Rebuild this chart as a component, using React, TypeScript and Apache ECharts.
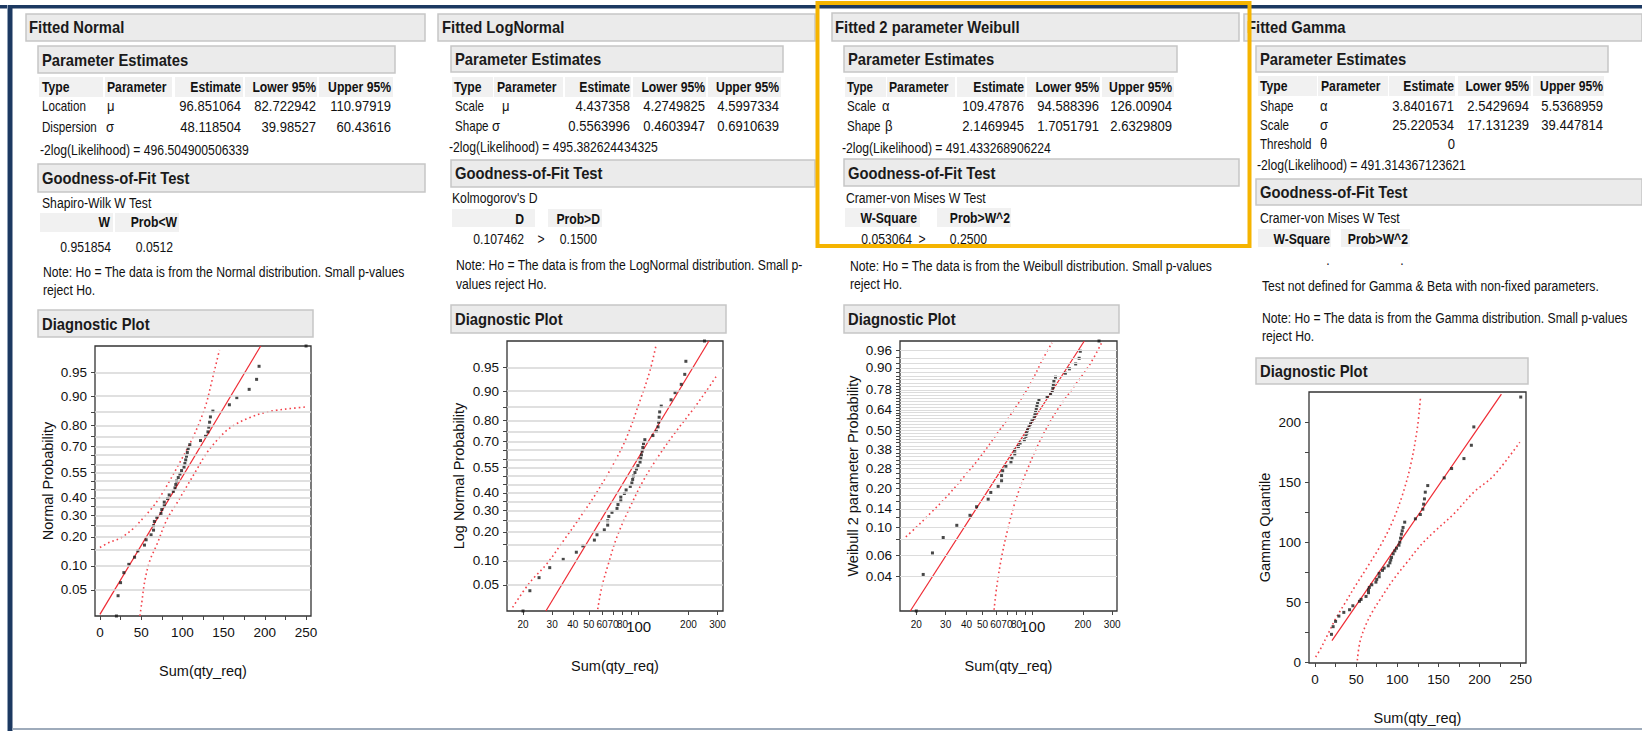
import React, { useEffect, useRef } from "react";
import * as echarts from "echarts";

// ---------- data ----------
const qtyReq = [20, 22, 25, 29, 35, 42, 46, 54, 56, 62, 65, 65, 66, 69, 74, 75, 78, 78, 82, 84, 89, 91, 92, 93, 95, 97, 99, 102, 103, 104, 105, 106, 107, 109, 122, 128, 131, 132, 133, 134, 137, 157, 166, 181, 190, 193, 250];
const plotProb = [0.0208, 0.0417, 0.0625, 0.0833, 0.1042, 0.125, 0.1458, 0.1667, 0.1875, 0.2083, 0.2292, 0.25, 0.2708, 0.2917, 0.3125, 0.3333, 0.3542, 0.375, 0.3958, 0.4167, 0.4375, 0.4583, 0.4792, 0.5, 0.5208, 0.5417, 0.5625, 0.5833, 0.6042, 0.625, 0.6458, 0.6667, 0.6875, 0.7083, 0.7292, 0.75, 0.7708, 0.7917, 0.8125, 0.8333, 0.8542, 0.875, 0.8958, 0.9167, 0.9375, 0.9583, 0.9792];
const gammaQuantile = [23.6, 30.0, 34.4, 38.8, 41.9, 44.1, 47.4, 51.1, 52.7, 55.2, 58.3, 60.5, 62.7, 64.9, 67.1, 69.4, 71.6, 74.4, 76.9, 78.8, 80.7, 83.2, 85.5, 87.7, 90.7, 93.2, 95.4, 97.9, 100.4, 103.8, 107.1, 109.9, 112.7, 117.1, 119.9, 123.5, 127.9, 132.1, 136.5, 142.1, 147.6, 154.0, 161.8, 170.1, 181.2, 196.5, 221.4];

const probRange = [0.0208, 0.9792];

const normalProbTicks = [0.05, 0.10, 0.20, 0.30, 0.40, 0.55, 0.70, 0.80, 0.90, 0.95];
const normalProbGrid = [0.05, 0.10, 0.15, 0.20, 0.25, 0.30, 0.35, 0.40, 0.45, 0.50, 0.55, 0.60, 0.65, 0.70, 0.75, 0.80, 0.85, 0.90, 0.95];
const weibullProbTicks = [0.04, 0.06, 0.10, 0.14, 0.20, 0.28, 0.38, 0.50, 0.64, 0.78, 0.90, 0.96];
const weibullProbGrid = [0.04, 0.06, 0.08, 0.10, 0.12, 0.14, 0.16, 0.18, 0.20, 0.22, 0.24, 0.26, 0.28, 0.30, 0.32, 0.34, 0.36, 0.38, 0.40, 0.42, 0.44, 0.46, 0.48, 0.50, 0.52, 0.54, 0.56, 0.58, 0.60, 0.62, 0.64, 0.66, 0.68, 0.70, 0.72, 0.74, 0.76, 0.78, 0.80, 0.82, 0.84, 0.86, 0.88, 0.90, 0.92, 0.94, 0.96];
const linearLabels = [0, 50, 100, 150, 200, 250];
const linearTicks = [0, 25, 50, 75, 100, 125, 150, 175, 200, 225, 250];
const gammaYLabels = [0, 50, 100, 150, 200];
const gammaYTicks = [0, 25, 50, 75, 100, 125, 150, 175, 200];
const logLabels = [20, 30, 40, 50, 60, 70, 80, 100, 200, 300];
const logTicks = [20, 30, 40, 50, 60, 70, 80, 90, 100, 200, 300];

// fitted lines (x, probability) / (x, quantile)
const normalFit = [[0, 0.0221], [195, 0.9792]];
const lognormalFit = [[27.5, 0.0208], [266, 0.9792]];
const weibullFit = [[18.4, 0.0208], [204, 0.9792]];
const gammaFit = [[20.6, 18.3], [226.5, 223.9]];

// confidence bands
const normalBandUpper = [[0, 0.158], [12, 0.178], [24, 0.193], [40, 0.235], [53, 0.291], [63, 0.341], [73, 0.406], [85, 0.505], [95, 0.594], [105, 0.679], [113, 0.747], [121, 0.814], [129, 0.879], [135, 0.929], [142, 0.966], [145, 0.976]];
const normalBandLower = [[48.5, 0.0208], [50.6, 0.0324], [54.6, 0.0675], [60.7, 0.116], [68.8, 0.167], [80.9, 0.278], [93, 0.367], [105, 0.465], [117, 0.565], [129, 0.661], [142, 0.731], [154, 0.778], [166, 0.807], [182, 0.831], [198, 0.848], [214, 0.857], [231, 0.863], [249, 0.868]];
const lognormalBandUpper = [[17.3, 0.0237], [22.0, 0.0542], [27.8, 0.092], [35.1, 0.164], [44.2, 0.266], [55.8, 0.402], [70.3, 0.571], [84.5, 0.719], [101.7, 0.871], [116.8, 0.943], [127.1, 0.975]];
const lognormalBandLower = [[56.6, 0.0223], [59.8, 0.0464], [65.6, 0.092], [73.7, 0.177], [86.6, 0.300], [106.6, 0.471], [134.3, 0.629], [169.3, 0.752], [213.4, 0.843], [256.4, 0.900], [298, 0.936]];
const weibullBandUpper = [[17.3, 0.0843], [20.1, 0.1013], [24.2, 0.129], [30.3, 0.173], [38.4, 0.243], [48.2, 0.336], [60.8, 0.473], [76.5, 0.634], [96.3, 0.813], [116, 0.939], [130.4, 0.976]];
const weibullBandLower = [[58.6, 0.0213], [60.8, 0.0331], [65.1, 0.0583], [71.4, 0.1013], [80.1, 0.173], [92.3, 0.272], [110.6, 0.431], [139.2, 0.634], [175.1, 0.792], [220.3, 0.915], [259, 0.976]];
const gammaBandUpper = [[0.8, 4.7], [6.9, 11.7], [15, 22.8], [25.1, 36.6], [37.2, 50.5], [49.4, 64.4], [63.5, 79.6], [79.7, 97.7], [93.9, 117.1], [106, 139.3], [116.1, 164.3], [124.2, 194.8], [128.2, 221.1]];
const gammaBandLower = [[51.4, 1.9], [54.6, 17.2], [61.5, 31.1], [69.6, 42.2], [79.7, 53.3], [95.9, 69.9], [112, 83.8], [128.2, 97.7], [144.4, 108.8], [168.7, 124], [193, 142.1], [217.2, 155.9], [248.8, 183.7]];

// ---------- scale transforms ----------
function probit(p: number): number {
  const a = [-3.969683028665376e1, 2.209460984245205e2, -2.759285104469687e2, 1.38357751867269e2, -3.066479806614716e1, 2.506628277459239];
  const b = [-5.447609879822406e1, 1.615858368580409e2, -1.556989798598866e2, 6.680131188771972e1, -1.328068155288572e1];
  const c = [-7.784894002430293e-3, -3.223964580411365e-1, -2.400758277161838, -2.549732539343734, 4.374664141464968, 2.938163982698783];
  const d = [7.784695709041462e-3, 3.224671290700398e-1, 2.445134137142996, 3.754408661907416];
  const pl = 0.02425;
  if (p < pl) {
    const q = Math.sqrt(-2 * Math.log(p));
    return (((((c[0] * q + c[1]) * q + c[2]) * q + c[3]) * q + c[4]) * q + c[5]) / ((((d[0] * q + d[1]) * q + d[2]) * q + d[3]) * q + 1);
  }
  if (p <= 1 - pl) {
    const q = p - 0.5, r = q * q;
    return ((((((a[0] * r + a[1]) * r + a[2]) * r + a[3]) * r + a[4]) * r + a[5]) * q) / (((((b[0] * r + b[1]) * r + b[2]) * r + b[3]) * r + b[4]) * r + 1);
  }
  const q = Math.sqrt(-2 * Math.log(1 - p));
  return -(((((c[0] * q + c[1]) * q + c[2]) * q + c[3]) * q + c[4]) * q + c[5]) / ((((d[0] * q + d[1]) * q + d[2]) * q + d[3]) * q + 1);
}
const weib = (p: number) => Math.log(-Math.log(1 - p));
const lg = (v: number) => Math.log10(v);
const ident = (v: number) => v;

const FONT = "'Liberation Sans', Arial, Helvetica, sans-serif";
const SX = 0.87;

// ---------- graphic helpers ----------
function T(x: number, y: number, text: string, o: any = {}) {
  return {
    type: "text", x, y, scaleX: o.sx ?? SX, z: 20, silent: true,
    style: {
      text, fontSize: o.size ?? 15, fontWeight: o.bold ? "bold" : "normal", fontFamily: FONT,
      fill: o.color ?? "#111", align: o.align ?? "left", verticalAlign: "middle",
    },
  };
}
function R(x: number, y: number, w: number, h: number, fill: string, stroke?: string, lw = 1) {
  return { type: "rect", z: 10, silent: true, shape: { x, y, width: w, height: h }, style: { fill, stroke: stroke ?? "none", lineWidth: lw } };
}
const HB = "#ebebeb", HS = "#c6c6c6", CELL = "#f1f1f1";
const head = (x: number, y: number, w: number, h: number) => R(x, y, w, h, HB, HS, 1.5);
const H = (x: number, y: number, t: string) => T(x, y, t, { size: 17, bold: true, color: "#1a1a1a" });
const B = (x: number, y: number, t: string, align = "left") => T(x, y, t, { size: 14, bold: true, align });
const N = (x: number, y: number, t: string, align = "left") => T(x, y, t, { size: 15, align });
const W = (x: number, y: number, t: string) => T(x, y, t, { size: 14.5, sx: 0.8 });
const S = (x: number, y: number, t: string, align = "left") => T(x, y, t, { size: 14, align });

function buildGraphics() {
  const g: any[] = [];
  // page frame
  g.push(R(0, 5, 1642, 3.5, "#1c3961"));
  g.push(R(7, 5, 1, 726, "#8ea0b6"));
  g.push(R(8, 5, 4.5, 726, "#1c3961"));
  g.push(R(12.5, 728, 1629.5, 2, "#9eabbb"));

  // ---- Panel 1: Normal ----
  g.push(head(26, 14, 399, 27), H(29, 27.5, "Fitted Normal"));
  g.push(head(38, 46, 357, 27), H(42, 60, "Parameter Estimates"));
  g.push(R(39, 77, 64, 20, CELL), R(105, 77, 67, 20, CELL), R(175, 77, 68, 20, CELL), R(245, 77, 72, 20, CELL), R(319, 77, 74, 20, CELL));
  g.push(B(42, 87, "Type"), B(107, 87, "Parameter"), B(241, 87, "Estimate", "right"), B(316, 87, "Lower 95%", "right"), B(391, 87, "Upper 95%", "right"));
  g.push(W(42, 106, "Location"), N(107, 106, "μ"), N(241, 106, "96.851064", "right"), N(316, 106, "82.722942", "right"), N(391, 106, "110.97919", "right"));
  g.push(W(42, 127, "Dispersion"), N(106, 127, "σ"), N(241, 127, "48.118504", "right"), N(316, 127, "39.98527", "right"), N(391, 127, "60.43616", "right"));
  g.push(S(40, 150, "-2log(Likelihood) = 496.504900506339"));
  g.push(head(38, 164, 387, 28), H(42, 178, "Goodness-of-Fit Test"));
  g.push(S(42, 203, "Shapiro-Wilk W Test"));
  g.push(R(40, 213, 73, 19, CELL), R(115, 213, 64, 19, CELL));
  g.push(B(110, 222, "W", "right"), B(177, 222, "Prob<W", "right"));
  g.push(S(111, 247, "0.951854", "right"), S(173, 247, "0.0512", "right"));
  g.push(S(43, 272, "Note: Ho = The data is from the Normal distribution. Small p-values"), S(43, 290, "reject Ho."));
  g.push(head(38, 310, 275, 27), H(42, 324, "Diagnostic Plot"));

  // ---- Panel 2: LogNormal ----
  g.push(head(438, 14, 377, 27), H(442, 27.5, "Fitted LogNormal"));
  g.push(head(451, 46, 332, 26), H(455, 59, "Parameter Estimates"));
  g.push(R(452, 77, 41, 20, CELL), R(494, 77, 69, 20, CELL), R(565, 77, 66, 20, CELL), R(633, 77, 73, 20, CELL), R(708, 77, 73, 20, CELL));
  g.push(B(454, 87, "Type"), B(497, 87, "Parameter"), B(630, 87, "Estimate", "right"), B(705, 87, "Lower 95%", "right"), B(779, 87, "Upper 95%", "right"));
  g.push(W(455, 106, "Scale"), N(502, 106, "μ"), N(630, 106, "4.437358", "right"), N(705, 106, "4.2749825", "right"), N(779, 106, "4.5997334", "right"));
  g.push(W(455, 126, "Shape"), N(492, 126, "σ"), N(630, 126, "0.5563996", "right"), N(705, 126, "0.4603947", "right"), N(779, 126, "0.6910639", "right"));
  g.push(S(449, 147, "-2log(Likelihood) = 495.382624434325"));
  g.push(head(451, 160, 364, 27), H(455, 173, "Goodness-of-Fit Test"));
  g.push(S(452, 198, "Kolmogorov's D"));
  g.push(R(452, 209, 83, 18, CELL), R(548, 209, 54, 18, CELL));
  g.push(B(524, 219, "D", "right"), B(600, 219, "Prob>D", "right"));
  g.push(S(524, 239, "0.107462", "right"), S(541, 239, ">", "center"), S(597, 239, "0.1500", "right"));
  g.push(S(456, 265, "Note: Ho = The data is from the LogNormal distribution. Small p-"), S(456, 284, "values reject Ho."));
  g.push(head(451, 305, 275, 28), H(455, 319, "Diagnostic Plot"));

  // ---- Panel 3: Weibull ----
  g.push(head(832, 13, 407, 28), H(835, 27, "Fitted 2 parameter Weibull"));
  g.push(head(844, 46, 333, 26), H(848, 59, "Parameter Estimates"));
  g.push(R(845, 77, 41, 20, CELL), R(887, 77, 68, 20, CELL), R(957, 77, 68, 20, CELL), R(1027, 77, 73, 20, CELL), R(1102, 77, 72, 20, CELL));
  g.push(T(847, 87, "Type", { size: 14, bold: true, sx: 0.82 }), B(889, 87, "Parameter"), B(1024, 87, "Estimate", "right"), B(1099, 87, "Lower 95%", "right"), B(1172, 87, "Upper 95%", "right"));
  g.push(W(847, 106, "Scale"), N(882, 106, "α"), N(1024, 106, "109.47876", "right"), N(1099, 106, "94.588396", "right"), N(1172, 106, "126.00904", "right"));
  g.push(W(847, 126, "Shape"), N(885, 126, "β"), N(1024, 126, "2.1469945", "right"), N(1099, 126, "1.7051791", "right"), N(1172, 126, "2.6329809", "right"));
  g.push(S(842, 148, "-2log(Likelihood) = 491.433268906224"));
  g.push(head(844, 159, 395, 27), H(848, 173, "Goodness-of-Fit Test"));
  g.push(S(846, 198, "Cramer-von Mises W Test"));
  g.push(R(845, 208, 75, 19, CELL), R(937, 208, 74, 19, CELL));
  g.push(B(917, 218, "W-Square", "right"), B(1010, 218, "Prob>W^2", "right"));
  g.push(S(912, 239, "0.053064", "right"), S(922, 239, ">", "center"), S(987, 239, "0.2500", "right"));
  g.push(S(850, 266, "Note: Ho = The data is from the Weibull distribution. Small p-values"), S(850, 284, "reject Ho."));
  g.push(head(844, 305, 275, 28), H(848, 319, "Diagnostic Plot"));

  // ---- Panel 4: Gamma ----
  g.push(head(1244, 14, 398, 27), H(1247, 27.5, "Fitted Gamma"));
  g.push(head(1256, 46, 352, 26), H(1260, 59, "Parameter Estimates"));
  g.push(R(1258, 76, 59, 20, CELL), R(1318, 76, 70, 20, CELL), R(1389, 76, 66, 20, CELL), R(1458, 76, 73, 20, CELL), R(1533, 76, 71, 20, CELL));
  g.push(B(1260, 86, "Type"), B(1321, 86, "Parameter"), B(1454, 86, "Estimate", "right"), B(1529, 86, "Lower 95%", "right"), B(1603, 86, "Upper 95%", "right"));
  g.push(W(1260, 106, "Shape"), N(1320, 106, "α"), N(1454, 106, "3.8401671", "right"), N(1529, 106, "2.5429694", "right"), N(1603, 106, "5.5368959", "right"));
  g.push(W(1260, 125, "Scale"), N(1320, 125, "σ"), N(1454, 125, "25.220534", "right"), N(1529, 125, "17.131239", "right"), N(1603, 125, "39.447814", "right"));
  g.push(W(1260, 144, "Threshold"), N(1320, 144, "θ"), N(1455, 144, "0", "right"));
  g.push(S(1257, 165, "-2log(Likelihood) = 491.314367123621"));
  g.push(head(1256, 179, 386, 26), H(1260, 192, "Goodness-of-Fit Test"));
  g.push(S(1260, 218, "Cramer-von Mises W Test"));
  g.push(R(1258, 229, 73, 18, CELL), R(1341, 229, 69, 18, CELL));
  g.push(B(1330, 239, "W-Square", "right"), B(1408, 239, "Prob>W^2", "right"));
  g.push(S(1328, 260, ".", "center"), S(1402, 260, ".", "center"));
  g.push(S(1262, 286, "Test not defined for Gamma & Beta with non-fixed parameters."));
  g.push(S(1262, 318, "Note: Ho = The data is from the Gamma distribution. Small p-values"), S(1262, 336, "reject Ho."));
  g.push(head(1256, 358, 272, 26), H(1260, 371, "Diagnostic Plot"));

  // highlight box
  g.push({ type: "rect", z: 100, silent: true, shape: { x: 817.5, y: 3, width: 432, height: 243 }, style: { fill: "none", stroke: "#f5b400", lineWidth: 4 } });
  return g;
}

// ---------- axes ----------
const axisLabelBase = { color: "#111", fontFamily: FONT };
const nameStyle = { fontSize: 14.5, color: "#111", fontFamily: FONT };
const noLine = { show: false, onZero: false };

function probLabel(ticks: number[], f: (p: number) => number) {
  return (v: number) => {
    const t = ticks.find((p) => Math.abs(f(p) - v) < 1e-6);
    return t === undefined ? "" : t.toFixed(2);
  };
}
function probY(gi: number, labels: number[], grid: number[], f: (p: number) => number, name: string, gap: number) {
  return {
    type: "value", gridIndex: gi, min: f(probRange[0]), max: f(probRange[1]),
    name, nameLocation: "middle", nameGap: gap, nameTextStyle: nameStyle,
    axisLine: noLine, splitLine: { show: false },
    axisTick: { show: true, length: 4, customValues: grid.map(f), lineStyle: { color: "#444" } },
    axisLabel: { ...axisLabelBase, fontSize: 13.5, margin: 8, customValues: labels.map(f), formatter: probLabel(labels, f) },
  };
}
function linX(gi: number, min: number, max: number) {
  return {
    type: "value", gridIndex: gi, min, max,
    name: "Sum(qty_req)", nameLocation: "middle", nameGap: 47, nameTextStyle: nameStyle,
    axisLine: noLine, splitLine: { show: false },
    axisTick: { show: true, length: 4, customValues: linearTicks, lineStyle: { color: "#444" } },
    axisLabel: { ...axisLabelBase, fontSize: 13.5, margin: 9, customValues: linearLabels, formatter: (v: number) => String(Math.round(v)) },
  };
}
function logX(gi: number, min: number, max: number) {
  return {
    type: "value", gridIndex: gi, min: lg(min), max: lg(max),
    name: "Sum(qty_req)", nameLocation: "middle", nameGap: 47, nameTextStyle: nameStyle,
    axisLine: noLine, splitLine: { show: false },
    axisTick: { show: true, length: 4, customValues: logTicks.map(lg), lineStyle: { color: "#444" } },
    axisLabel: {
      ...axisLabelBase, margin: 8, customValues: logLabels.map(lg),
      formatter: (v: number) => {
        const n = Math.round(Math.pow(10, v));
        return n === 100 ? "{big|100}" : "{s|" + n + "}";
      },
      rich: { s: { fontSize: 10, fontFamily: FONT, color: "#111" }, big: { fontSize: 15, fontFamily: FONT, color: "#111" } },
    },
  };
}

// ---------- series ----------
function panelSeries(gi: number, pts: number[][], fit: number[][], bandA: number[][], bandB: number[][], gridVals: number[] | null, gridColor = "#d6d6d6", gridWidth = 1.5) {
  const s: any[] = [];
  if (gridVals) {
    s.push({
      type: "line", xAxisIndex: gi, yAxisIndex: gi, data: [], silent: true, z: 1,
      markLine: {
        silent: true, symbol: ["none", "none"], label: { show: false }, emphasis: { disabled: true },
        lineStyle: { color: gridColor, width: gridWidth, type: "solid" },
        data: gridVals.map((v) => ({ yAxis: v })),
      },
    });
  }
  [bandA, bandB].forEach((b) =>
    s.push({
      type: "line", xAxisIndex: gi, yAxisIndex: gi, data: b, symbol: "none", showSymbol: false, smooth: 0.35, silent: true, z: 2,
      lineStyle: { color: "#f2434b", width: 1.6, type: [1.6, 3] },
    })
  );
  s.push({ type: "line", xAxisIndex: gi, yAxisIndex: gi, data: fit, symbol: "none", showSymbol: false, silent: true, z: 3, lineStyle: { color: "#ef2a33", width: 1.2 } });
  s.push({ type: "scatter", xAxisIndex: gi, yAxisIndex: gi, data: pts, symbol: "rect", symbolSize: 3, clip: false, silent: true, z: 4, itemStyle: { color: "#1a1a1a" } });
  return s;
}

function buildOption() {
  const tp = (arr: number[][], fx: (v: number) => number, fy: (v: number) => number) => arr.map(([a, b]) => [fx(a), fy(b)]);
  const normPts = qtyReq.map((v, i) => [v, probit(plotProb[i])]);
  const lnPts = qtyReq.map((v, i) => [lg(v), probit(plotProb[i])]);
  const wbPts = qtyReq.map((v, i) => [lg(v), weib(plotProb[i])]);
  const gmPts = qtyReq.map((v, i) => [v, gammaQuantile[i]]);

  const gridBase = { show: true, borderColor: "#333", borderWidth: 1.3, backgroundColor: "#fff", containLabel: false };
  return {
    animation: false,
    backgroundColor: "#ffffff",
    graphic: { elements: buildGraphics() },
    grid: [
      { ...gridBase, left: 95, top: 346, width: 216, height: 270 },
      { ...gridBase, left: 507, top: 341, width: 216, height: 270 },
      { ...gridBase, left: 900, top: 341, width: 217, height: 270 },
      { ...gridBase, left: 1309, top: 392, width: 217, height: 271 },
    ],
    xAxis: [linX(0, -6, 256), logX(1, 16.0, 323.6), logX(2, 15.96, 320.6), linX(3, -7.3, 256.4)],
    yAxis: [
      probY(0, normalProbTicks, normalProbGrid, probit, "Normal Probability", 40),
      probY(1, normalProbTicks, normalProbGrid, probit, "Log Normal Probability", 41),
      probY(2, weibullProbTicks, weibullProbGrid, weib, "Weibull 2 parameter Probability", 40),
      {
        type: "value", gridIndex: 3, min: -0.3, max: 225.6,
        name: "Gamma Quantile", nameLocation: "middle", nameGap: 37, nameTextStyle: nameStyle,
        axisLine: noLine, splitLine: { show: false },
        axisTick: { show: true, length: 4, customValues: gammaYTicks, lineStyle: { color: "#444" } },
        axisLabel: { ...axisLabelBase, fontSize: 13.5, margin: 8, customValues: gammaYLabels, formatter: (v: number) => String(Math.round(v)) },
      },
    ],
    series: [
      ...panelSeries(0, normPts, tp(normalFit, ident, probit), tp(normalBandUpper, ident, probit), tp(normalBandLower, ident, probit), normalProbGrid.map(probit)),
      ...panelSeries(1, lnPts, tp(lognormalFit, lg, probit), tp(lognormalBandUpper, lg, probit), tp(lognormalBandLower, lg, probit), normalProbGrid.map(probit)),
      ...panelSeries(2, wbPts, tp(weibullFit, lg, weib), tp(weibullBandUpper, lg, weib), tp(weibullBandLower, lg, weib), weibullProbGrid.map(weib), "#dcdcdc", 1),
      ...panelSeries(3, gmPts, tp(gammaFit, ident, ident), tp(gammaBandUpper, ident, ident), tp(gammaBandLower, ident, ident), null),
    ],
  };
}

export default function App() {
  const ref = useRef<HTMLDivElement>(null);
  useEffect(() => {
    if (!ref.current) return;
    const chart = echarts.init(ref.current, null, { renderer: "svg" });
    chart.setOption(buildOption() as any);
    return () => chart.dispose();
  }, []);
  return <div ref={ref} style={{ position: "fixed", left: 0, top: 0, width: 1642, height: 731, background: "#fff" }} />;
}
